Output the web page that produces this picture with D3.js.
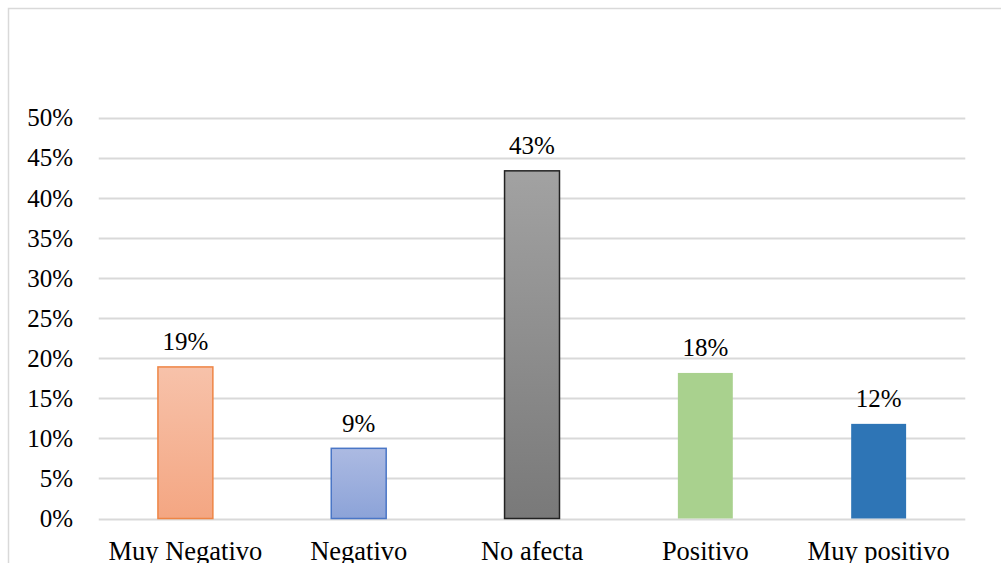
<!DOCTYPE html>
<html>
<head>
<meta charset="utf-8">
<script src="https://cdn.jsdelivr.net/npm/d3@7"></script>
<style>
  html, body { margin: 0; padding: 0; background: #fff; }
  svg { display: block; }
  text { font-family: "Liberation Serif", "Times New Roman", serif; fill: #000; }
</style>
</head>
<body>
<svg id="chart" width="1001" height="563"></svg>
<script>
// Response categories and their shares
const categories = ["Muy Negativo", "Negativo", "No afecta", "Positivo", "Muy positivo"];
const shares = [0.189, 0.0875, 0.4335, 0.1815, 0.118];
const yTicks = [0, 0.05, 0.10, 0.15, 0.20, 0.25, 0.30, 0.35, 0.40, 0.45, 0.50];

// Fill style per bar: gradient stops (top, bottom) and outline
const barStyles = [
  { top: "#F7C2AA", bottom: "#F4A682", stroke: "#EE8545" },
  { top: "#ACBAE2", bottom: "#8CA3D8", stroke: "#4A76C6" },
  { top: "#A2A2A2", bottom: "#797979", stroke: "#222222" },
  { top: "#A9D18E", bottom: "#A9D18E", stroke: null },
  { top: "#2E75B6", bottom: "#2E75B6", stroke: null }
];

const svg = d3.select("#chart");
const W = 1001, H = 563;

// Chart area frame (extends past the right and bottom edges)
svg.append("rect")
  .attr("x", 8.5).attr("y", 8.5)
  .attr("width", 1100).attr("height", 700)
  .attr("fill", "#fff")
  .attr("stroke", "#d9d9d9")
  .attr("stroke-width", 1.5);

const plot = { left: 98.75, right: 965.3, top: 117.5, bottom: 518.5 };

const x = d3.scaleBand()
  .domain(categories)
  .range([plot.left, plot.right])
  .paddingInner(0.683)
  .paddingOuter(0.683 / 2);

const y = d3.scaleLinear()
  .domain([0, 0.5])
  .range([plot.bottom, plot.top]);

// Gradients
const defs = svg.append("defs");
barStyles.forEach((s, i) => {
  const g = defs.append("linearGradient")
    .attr("id", "grad" + i)
    .attr("x1", 0).attr("y1", 0).attr("x2", 0).attr("y2", 1);
  g.append("stop").attr("offset", "0%").attr("stop-color", s.top);
  g.append("stop").attr("offset", "100%").attr("stop-color", s.bottom);
});

// Horizontal gridlines
svg.append("g")
  .selectAll("line")
  .data(yTicks)
  .join("line")
  .attr("x1", plot.left).attr("x2", plot.right)
  .attr("y1", d => Math.round(y(d)) + 0.5)
  .attr("y2", d => Math.round(y(d)) + 0.5)
  .attr("stroke", "#d9d9d9")
  .attr("stroke-width", 2);

// Y axis labels
const pct = d3.format(".0%");
svg.append("g")
  .selectAll("text")
  .data(yTicks)
  .join("text")
  .attr("x", 73)
  .attr("y", d => y(d) + 8.8)
  .attr("text-anchor", "end")
  .attr("font-size", 25)
  .text(d => pct(d));

const data = categories.map((c, i) => ({ c, v: shares[i], s: barStyles[i], i }));

// Bars
svg.append("g")
  .selectAll("rect")
  .data(data)
  .join("rect")
  .attr("x", d => x(d.c))
  .attr("width", x.bandwidth())
  .attr("y", d => y(d.v))
  .attr("height", d => y(0) - y(d.v))
  .attr("fill", d => `url(#grad${d.i})`)
  .attr("stroke", d => d.s.stroke || "none")
  .attr("stroke-width", 1.5);

// Value labels
svg.append("g")
  .selectAll("text")
  .data(data)
  .join("text")
  .attr("x", d => x(d.c) + x.bandwidth() / 2)
  .attr("y", d => y(d.v) - 16.5)
  .attr("text-anchor", "middle")
  .attr("font-size", 25)
  .text(d => pct(d.v));

// Category labels
svg.append("g")
  .selectAll("text")
  .data(categories)
  .join("text")
  .attr("x", d => x(d) + x.bandwidth() / 2)
  .attr("y", 560)
  .attr("text-anchor", "middle")
  .attr("font-size", 26.5)
  .text(d => d);
</script>
</body>
</html>
